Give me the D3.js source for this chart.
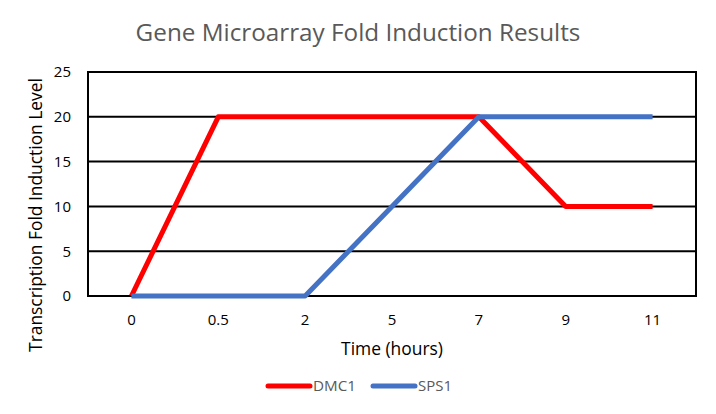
<!DOCTYPE html>
<html><head><meta charset="utf-8">
<script src="https://cdn.jsdelivr.net/npm/d3@7"></script>
<style>body{margin:0;background:#fff}svg{display:block;font-family:"Open Sans",sans-serif}text{font-variant-ligatures:none}</style>
</head><body>
<svg id="c" width="716" height="414"></svg>
<script>
const categories = ["0","0.5","2","5","7","9","11"];
const dmc1 = [0,20,20,20,20,10,10];
const sps1 = [0,0,0,10,20,20,20];
const yTicks = [0,5,10,15,20,25];
const seriesNames = ["DMC1","SPS1"];
const seriesColors = ["#FF0000","#4472C4"];

const svg = d3.select("#c");
const W = 716, H = 414;
const m = {left:88, right:20, top:72, bottom:118};
const x = d3.scaleBand().domain(categories).range([m.left, W - m.right]);
const y = d3.scaleLinear().domain([0,25]).range([H - m.bottom, m.top]);

function fit(sel, target){
  const w = sel.node().getComputedTextLength();
  const fs = parseFloat(sel.attr("font-size"));
  sel.attr("font-size", fs * target / w);
}

// gridlines
const g = svg.append("g");
g.selectAll("line.grid").data(yTicks).join("line")
  .attr("x1", m.left).attr("x2", W - m.right)
  .attr("y1", d => y(d)).attr("y2", d => y(d))
  .attr("stroke", "#000").attr("stroke-width", 2);
// border
g.append("rect").attr("x", m.left).attr("y", y(25))
  .attr("width", W - m.right - m.left).attr("height", y(0) - y(25))
  .attr("fill", "none").attr("stroke", "#000").attr("stroke-width", 2);

// axes
const yAxis = svg.append("g").attr("transform", `translate(${m.left - 17},0)`)
  .call(d3.axisLeft(y).tickValues(yTicks).tickSize(0).tickPadding(0));
yAxis.select(".domain").remove();
yAxis.selectAll("text").attr("font-size", 15).attr("fill", "#000").attr("font-family", "Open Sans");

const xAxis = svg.append("g").attr("transform", `translate(0,${y(0) + 18})`)
  .call(d3.axisBottom(x).tickSize(0).tickPadding(0));
xAxis.select(".domain").remove();
xAxis.selectAll("text").attr("font-size", 15).attr("fill", "#000").attr("font-family", "Open Sans");

// lines
const line = d3.line().x((d,i) => x(categories[i]) + x.bandwidth()/2).y(d => y(d));
[dmc1, sps1].forEach((s, k) => {
  svg.append("path").datum(s).attr("d", line)
    .attr("fill", "none").attr("stroke", seriesColors[k]).attr("stroke-width", 5)
    .attr("stroke-linejoin", "round");
});

// title
const t = svg.append("text").attr("x", 358).attr("y", 41).attr("text-anchor", "middle")
  .attr("font-size", 24).attr("fill", "#595959").text("Gene Microarray Fold Induction Results");
fit(t, 445);

// x title
const xt = svg.append("text").attr("x", (m.left + W - m.right)/2).attr("y", 355).attr("text-anchor", "middle")
  .attr("font-size", 16).attr("fill", "#000").text("Time (hours)");
fit(xt, 102);

// y title
const yt = svg.append("text").attr("transform", `translate(42,215) rotate(-90)`).attr("text-anchor", "middle")
  .attr("font-size", 16).attr("fill", "#000").text("Transcription Fold Induction Level");
fit(yt, 274);

// legend
const legX = [268, 373];
const legW = [43, 34];
seriesNames.forEach((n, k) => {
  svg.append("line").attr("x1", legX[k]).attr("x2", legX[k] + 42).attr("y1", 386).attr("y2", 386)
    .attr("stroke", seriesColors[k]).attr("stroke-width", 5).attr("stroke-linecap", "round");
  const lt = svg.append("text").attr("x", legX[k] + 45).attr("y", 391).attr("font-size", 15)
    .attr("fill", "#595959").text(n);
  fit(lt, legW[k]);
});
</script>
</body></html>
